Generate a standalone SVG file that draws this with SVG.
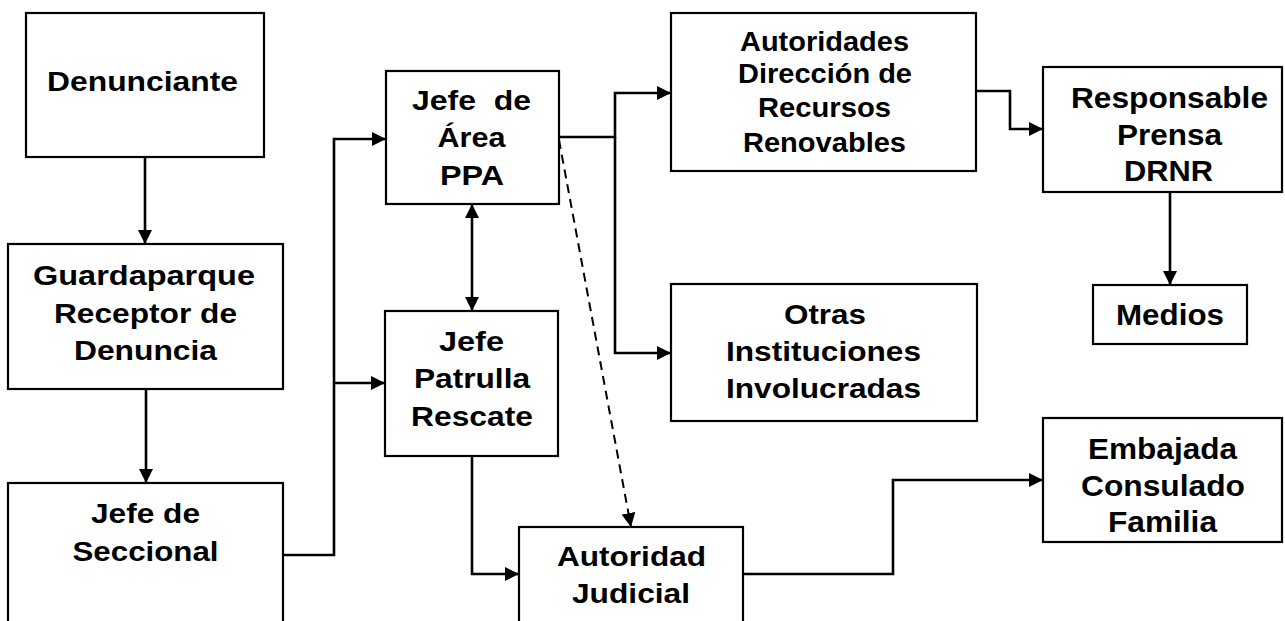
<svg xmlns="http://www.w3.org/2000/svg" width="1285" height="621" viewBox="0 0 1285 621">
<style>
.box{fill:#fff;stroke:#000;stroke-width:2.2}
.t{font-family:"Liberation Sans",Arial,sans-serif;font-weight:bold;font-size:28px;fill:#000}
.big{font-size:29.5px}
.c{fill:none;stroke:#000;stroke-width:2.6}
.d{fill:none;stroke:#000;stroke-width:2;stroke-dasharray:9,6}
</style>
<defs>
<marker id="ah" markerUnits="userSpaceOnUse" markerWidth="15" markerHeight="15" refX="14" refY="7.5" orient="auto-start-reverse">
<path d="M0,0.5 L14,7.5 L0,14.5 z" fill="#000"/>
</marker>
</defs>
<rect width="1285" height="621" fill="#fff"/>
<g id="connectors">
<path class="c" d="M145,157 V244" marker-end="url(#ah)"/>
<path class="c" d="M146,389 V483" marker-end="url(#ah)"/>
<path class="c" d="M283,555 H334 V139 H386" marker-end="url(#ah)"/>
<path class="c" d="M334,383 H385" marker-end="url(#ah)"/>
<path class="c" d="M472,204 V311" marker-start="url(#ah)" marker-end="url(#ah)"/>
<path class="c" d="M559,137 H615 V93 H671" marker-end="url(#ah)"/>
<path class="c" d="M615,137 V353 H671" marker-end="url(#ah)"/>
<path class="d" d="M559,140 L631,527" marker-end="url(#ah)"/>
<path class="c" d="M472,456 V574 H519" marker-end="url(#ah)"/>
<path class="c" d="M743,574 H893 V480 H1043" marker-end="url(#ah)"/>
<path class="c" d="M977,91 H1010 V129 H1043" marker-end="url(#ah)"/>
<path class="c" d="M1170,192 V285" marker-end="url(#ah)"/>
</g>
<g id="denunciante">
<rect class="box" x="26" y="13" width="238" height="144"/>
<text class="t" x="47" y="90.5" textLength="191" lengthAdjust="spacingAndGlyphs">Denunciante</text>
</g>
<g id="guardaparque">
<rect class="box" x="8" y="244" width="275" height="145"/>
<text class="t" x="33" y="285" textLength="222" lengthAdjust="spacingAndGlyphs">Guardaparque</text>
<text class="t" x="54" y="323" textLength="183" lengthAdjust="spacingAndGlyphs">Receptor de</text>
<text class="t" x="74" y="360" textLength="143" lengthAdjust="spacingAndGlyphs">Denuncia</text>
</g>
<g id="seccional">
<rect class="box" x="8" y="483" width="275" height="160"/>
<text class="t" x="91" y="523" textLength="109" lengthAdjust="spacingAndGlyphs">Jefe de</text>
<text class="t" x="72.5" y="561" textLength="146" lengthAdjust="spacingAndGlyphs">Seccional</text>
</g>
<g id="jefe-area">
<rect class="box" x="386" y="71" width="173" height="133"/>
<text class="t" x="412" y="110" textLength="119" lengthAdjust="spacingAndGlyphs" xml:space="preserve">Jefe  de</text>
<text class="t" x="437.5" y="147" textLength="68" lengthAdjust="spacingAndGlyphs">Área</text>
<text class="t" x="440" y="185" textLength="64" lengthAdjust="spacingAndGlyphs">PPA</text>
</g>
<g id="jefe-patrulla">
<rect class="box" x="385" y="311" width="173" height="145"/>
<text class="t" x="439" y="351" textLength="65" lengthAdjust="spacingAndGlyphs">Jefe</text>
<text class="t" x="414" y="388" textLength="116" lengthAdjust="spacingAndGlyphs">Patrulla</text>
<text class="t" x="411" y="426" textLength="122" lengthAdjust="spacingAndGlyphs">Rescate</text>
</g>
<g id="autoridades">
<rect class="box" x="671" y="13" width="305" height="158"/>
<text class="t" x="740" y="51" textLength="169" lengthAdjust="spacingAndGlyphs">Autoridades</text>
<text class="t" x="738" y="83" textLength="174" lengthAdjust="spacingAndGlyphs">Dirección de</text>
<text class="t" x="758" y="117" textLength="133" lengthAdjust="spacingAndGlyphs">Recursos</text>
<text class="t" x="743" y="152" textLength="163" lengthAdjust="spacingAndGlyphs">Renovables</text>
</g>
<g id="otras">
<rect class="box" x="671" y="284" width="306" height="137"/>
<text class="t" x="784" y="324" textLength="82" lengthAdjust="spacingAndGlyphs">Otras</text>
<text class="t" x="726" y="361" textLength="195" lengthAdjust="spacingAndGlyphs">Instituciones</text>
<text class="t" x="726" y="398" textLength="195" lengthAdjust="spacingAndGlyphs">Involucradas</text>
</g>
<g id="autoridad-judicial">
<rect class="box" x="519" y="527" width="224" height="120"/>
<text class="t" x="557" y="566" textLength="149" lengthAdjust="spacingAndGlyphs">Autoridad</text>
<text class="t" x="572" y="603" textLength="118" lengthAdjust="spacingAndGlyphs">Judicial</text>
</g>
<g id="responsable">
<rect class="box" x="1043" y="67" width="239" height="125"/>
<text class="t big" x="1071" y="108" textLength="197" lengthAdjust="spacingAndGlyphs">Responsable</text>
<text class="t big" x="1117" y="145" textLength="105" lengthAdjust="spacingAndGlyphs">Prensa</text>
<text class="t big" x="1124" y="181" textLength="89" lengthAdjust="spacingAndGlyphs">DRNR</text>
</g>
<g id="medios">
<rect class="box" x="1093" y="285" width="154" height="59"/>
<text class="t big" x="1116" y="325" textLength="108" lengthAdjust="spacingAndGlyphs">Medios</text>
</g>
<g id="embajada">
<rect class="box" x="1043" y="418" width="239" height="124"/>
<text class="t big" x="1088" y="459" textLength="149" lengthAdjust="spacingAndGlyphs">Embajada</text>
<text class="t big" x="1081" y="496" textLength="164" lengthAdjust="spacingAndGlyphs">Consulado</text>
<text class="t big" x="1108" y="532" textLength="109" lengthAdjust="spacingAndGlyphs">Familia</text>
</g>
</svg>
